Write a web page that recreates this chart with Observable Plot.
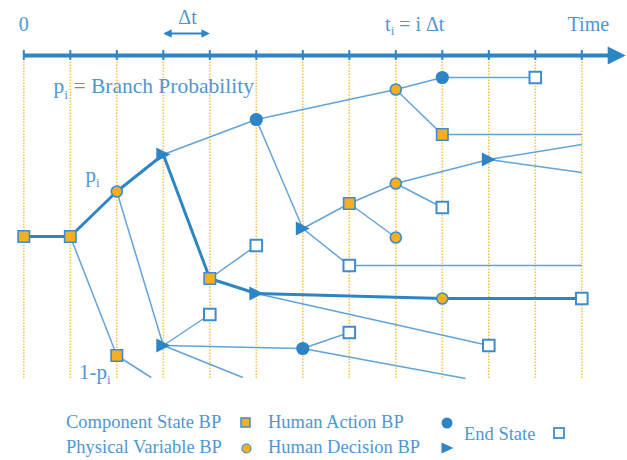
<!DOCTYPE html>
<html><head><meta charset="utf-8">
<script src="https://cdn.jsdelivr.net/npm/d3@7"></script>
<script src="https://cdn.jsdelivr.net/npm/@observablehq/plot@0.6"></script>
<style>
body{margin:0;background:#fff;}
#root{position:relative;width:627px;height:460px;font-family:"Liberation Serif",serif;color:#4f97d3;overflow:hidden;}
#root > svg:first-child{display:block;}
.lg{position:absolute;line-height:0;font-size:18.5px;white-space:nowrap;}
.sw{position:absolute;overflow:visible;}
</style></head><body><div id="root"></div>
<script>
// Time grid: column index i (t_i = i Δt)
const timeSteps = [0,1,2,3,4,5,6,7,8,9,10,11,12];
// Event-tree nodes: time (in Δt), vertical level (arbitrary branch units), node type
const nodeTime  = [0,1,2,2,3,3,2.74,5,4,8,6,9,9,11,12,7,7,12,8,8,10,9,12,12,5,5,9,12,10,4,6,4.71,7,9.5];
const nodeLevel = [16.4,16.4,20.9,4.5,24.6,5.5,2.3,28.1,12.2,31.1,17.2,32.3,26.6,32.3,26.6,19.7,13.5,13.5,21.7,16.3,24.1,19.3,25.6,22.8,15.5,10.7,10.2,10.2,5.5,8.6,5.2,2.3,6.8,2.2];
const nodeType  = ["component","component","physical","component","decision","decision","none","action","component","physical","decision","action","component","end","none","component","end","none","physical","physical","decision","end","none","none","end","decision","physical","end","end","end","action","none","end","none"];
// Highlighted scenario path and other branches (node indices)
const mainPath = [0,1,2,4,8,25,26,27];
const branchEdges = [[1,3],[2,5],[3,6],[4,7],[7,9],[7,10],[9,11],[9,12],[11,13],[12,14],[10,15],[10,16],[16,17],[15,18],[15,19],[18,20],[18,21],[20,22],[20,23],[8,24],[25,28],[5,29],[5,30],[5,31],[30,32],[30,33]];
// Axis decoration
const axisLevel = 34.5, tickLow = 34.0, tickHigh = 35.0, gridTop = 34.0, gridBottom = 2.2;
const axisEnd = 12.6, arrowHeadAt = 12.75;
const deltaLevel = 36.7, deltaStart = 3.0, deltaEnd = 4.0;
// Text labels
const labelText   = ["0","Δt","Time"];
const labelTime   = [0, 3.52, 12.14];
const labelLevel  = [37.64, 38.3, 37.64];
const subLabelText  = ["t_i = i Δt","p_i = Branch Probability","p_i","1-p_i"];
const subLabelTime  = [7.77, 0.64, 1.327, 1.185];
const subLabelLevel = [37.64, 31.42, 22.57, 2.84];
const subLabelSize  = [20, 21.5, 21, 21];

const BLUE = "#2e85c5", THIN = "#5a9fd6", ORANGE = "#f5b022", TXT = "#4f97d3", GRID = "#f7b733";

const triRight = {draw(ctx, size){ const r = Math.sqrt(size/Math.PI); ctx.moveTo(r,0); ctx.lineTo(-r,-r); ctx.lineTo(-r,r); ctx.closePath(); }};
const squareSym = {draw(ctx, size){ const r = Math.sqrt(size/Math.PI); ctx.rect(-r,-r,2*r,2*r); }};

const nodes = nodeTime.map((t,i)=>({t, v: nodeLevel[i], type: nodeType[i]}));
const thickEdges = mainPath.slice(1).map((b,k)=>[mainPath[k], b]);
const ofType = ty => nodes.filter(n => n.type === ty);
const labels = labelText.map((s,i)=>({s, t: labelTime[i], v: labelLevel[i]}));
const subLabels = subLabelText.map((s,i)=>({s, t: subLabelTime[i], v: subLabelLevel[i], size: subLabelSize[i]}));

const ex = {x1: e=>nodes[e[0]].t, y1: e=>nodes[e[0]].v, x2: e=>nodes[e[1]].t, y2: e=>nodes[e[1]].v};

const plot = Plot.plot({
  width: 627, height: 400,
  marginLeft: 23.3, marginRight: 45.7, marginTop: 0, marginBottom: 0,
  x: {domain: [0,12], axis: null},
  y: {domain: [0,40], axis: null},
  style: {fontFamily: "Liberation Serif", background: "white", overflow: "visible"},
  marks: [
    Plot.ruleX(timeSteps, {x: d=>d, y1: gridBottom, y2: gridTop, stroke: GRID, strokeWidth: 1.6, strokeDasharray: "1.6 1.4", strokeOpacity: 0.85}),
    Plot.ruleY([axisLevel], {y: d=>d, x1: 0, x2: axisEnd, stroke: BLUE, strokeWidth: 4}),
    Plot.ruleX(timeSteps, {x: d=>d, y1: tickLow, y2: tickHigh, stroke: BLUE, strokeWidth: 2}),
    Plot.dot([arrowHeadAt], {x: d=>d, y: axisLevel, r: 9, symbol: triRight, fill: BLUE, stroke: "none"}),
    Plot.ruleY([deltaLevel], {y: d=>d, x1: deltaStart + 0.05, x2: deltaEnd - 0.05, stroke: BLUE, strokeWidth: 2}),
    Plot.dot([deltaStart + 0.09], {x: d=>d, y: deltaLevel, r: 4.2, symbol: triRight, rotate: 180, fill: BLUE, stroke: "none"}),
    Plot.dot([deltaEnd - 0.09], {x: d=>d, y: deltaLevel, r: 4.2, symbol: triRight, fill: BLUE, stroke: "none"}),
    Plot.link(branchEdges, {...ex, stroke: THIN, strokeWidth: 1.5, strokeOpacity: 0.95}),
    Plot.link(thickEdges, {...ex, stroke: BLUE, strokeWidth: 3}),
    Plot.dot(ofType("component"), {x: "t", y: "v", r: 5.7, symbol: squareSym, fill: ORANGE, stroke: "#3f8ccb", strokeWidth: 1.6}),
    Plot.dot(ofType("end"), {x: "t", y: "v", r: 5.8, symbol: squareSym, fill: "white", stroke: "#3f8ccb", strokeWidth: 2}),
    Plot.dot(ofType("physical"), {x: "t", y: "v", r: 5.5, fill: ORANGE, stroke: "#3f8ccb", strokeWidth: 1.6}),
    Plot.dot(ofType("action"), {x: "t", y: "v", r: 6.6, fill: BLUE, stroke: "none"}),
    Plot.dot(ofType("decision"), {x: "t", y: "v", r: 7, symbol: triRight, fill: BLUE, stroke: "none"}),
    Plot.text(labels, {x: "t", y: "v", text: "s", fill: TXT, fontSize: 20, textAnchor: "middle", lineAnchor: "middle"}),
    ...subLabels.map(d => Plot.text([d], {x: "t", y: "v", text: "s", fill: TXT, fontSize: d.size, textAnchor: "start", lineAnchor: "middle"}))
  ]
});

// subscripts
const NS = "http://www.w3.org/2000/svg";
plot.querySelectorAll("text").forEach(t => {
  let target = t.querySelector("tspan") || t;
  const s = target.textContent;
  if (!s.includes("_i")) return;
  const fs = parseFloat(t.getAttribute("font-size") || t.closest("[font-size]")?.getAttribute("font-size") || 20);
  const shift = fs * 0.25;
  target.textContent = "";
  s.split("_i").forEach((p, k) => {
    if (k > 0) {
      const sub = document.createElementNS(NS, "tspan");
      sub.setAttribute("font-size", (fs*0.62).toFixed(1));
      sub.setAttribute("dy", shift.toFixed(1));
      sub.textContent = "i";
      target.appendChild(sub);
    }
    const tp = document.createElementNS(NS, "tspan");
    if (k > 0) tp.setAttribute("dy", (-shift).toFixed(1));
    tp.textContent = p;
    target.appendChild(tp);
  });
});

const root = document.getElementById("root");
root.appendChild(plot);

// Legend (below the plot)
const A = 0.3375*18.5;
const legendText = [
  ["Component State BP", 66, 428], ["Human Action BP", 268, 428],
  ["Physical Variable BP", 66, 453], ["Human Decision BP", 268, 453],
  ["End State", 464, 440]
];
legendText.forEach(([s,x,b]) => {
  const d = document.createElement("div");
  d.className = "lg"; d.textContent = s;
  d.style.left = x + "px"; d.style.top = (b - A) + "px";
  root.appendChild(d);
});
function sw(cx, cy, w, h, inner){
  const d = document.createElementNS(NS, "svg");
  d.setAttribute("class","sw"); d.setAttribute("width", w); d.setAttribute("height", h);
  d.style.left = (cx - w/2) + "px"; d.style.top = (cy - h/2) + "px";
  d.innerHTML = inner; root.appendChild(d);
}
sw(245, 422, 11, 11, `<rect x="1" y="1" width="9" height="9" fill="${ORANGE}" stroke="#3f8ccb" stroke-width="1.5"/>`);
sw(447, 423, 12, 12, `<circle cx="6" cy="6" r="5.5" fill="${BLUE}"/>`);
sw(559, 433, 12, 12, `<rect x="1" y="1" width="10" height="10" fill="white" stroke="#3f8ccb" stroke-width="1.8"/>`);
sw(246, 448, 11, 11, `<circle cx="5.5" cy="5.5" r="4.5" fill="${ORANGE}" stroke="#3f8ccb" stroke-width="1.2"/>`);
sw(447, 448, 13, 12, `<path d="M0.5,0.5L12.5,6L0.5,11.5Z" fill="${BLUE}"/>`);
</script>
</body></html>
